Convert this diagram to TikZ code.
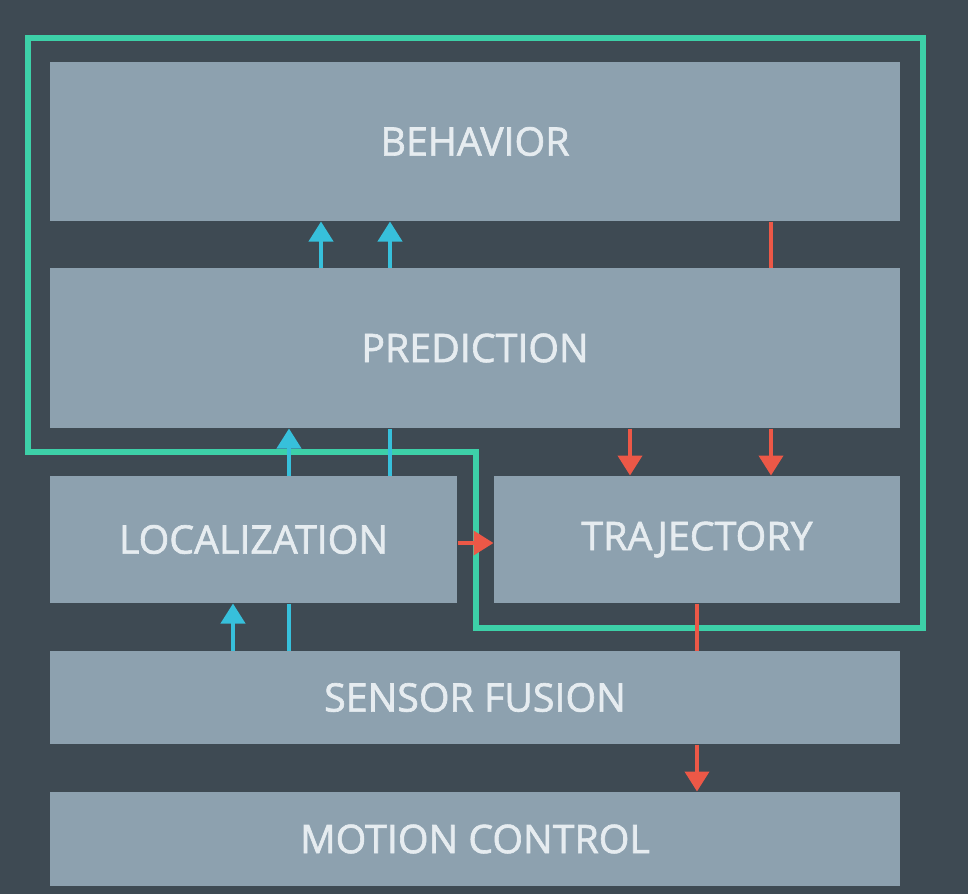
\documentclass[tikz,border=0pt]{standalone}
\usepackage{fontspec}
\setmainfont{Open Sans}
\newfontfamily\boxfont{Open Sans}[FakeBold=1.6]
\usetikzlibrary{arrows.meta}

\definecolor{bgcol}{RGB}{62,74,83}
\definecolor{boxcol}{RGB}{141,161,175}
\definecolor{txtcol}{RGB}{230,236,240}
\definecolor{upcol}{RGB}{55,192,219}
\definecolor{downcol}{RGB}{236,88,71}
\definecolor{loopcol}{RGB}{61,208,168}

\tikzset{every picture/.style={line width=0.75pt}}
\tikzset{
  box/.style={fill=boxcol, inner sep=0pt, text=txtcol, font=\boxfont\fontsize{29.5pt}{33pt}\selectfont},
  upline/.style={draw=upcol, line width=3pt},
  downline/.style={draw=downcol, line width=3pt},
  uparrow/.style={upline, -{Triangle[width=18pt,length=15pt]}},
  downarrow/.style={downline, -{Triangle[width=18pt,length=15pt]}},
}

\begin{document}
\begin{tikzpicture}[x=0.75pt,y=0.75pt,yscale=-1,xscale=1]
    % background, sets the page size
    \fill [bgcol] (0,0) rectangle (968,894);
    \useasboundingbox (0,0) rectangle (968,894);

    % Blocks
    \node (beh) [box, minimum width=637.5pt, minimum height=119.25pt] at (475,141.5) {BEHAVIOR};
    \node (pred) [box, minimum width=637.5pt, minimum height=120pt] at (475,348) {PREDICTION};
    \node (loc) [box, minimum width=305.25pt, minimum height=95.25pt] at (253.5,539.5) {LOCALIZATION};
    \node (traj) [box, minimum width=304.5pt, minimum height=95.25pt] at (697,539.5) {TRAJECTORY};
    \node (sf) [box, minimum width=637.5pt, minimum height=69.75pt] at (475,697.5) {SENSOR FUSION};
    \node (mc) [box, minimum width=637.5pt, minimum height=70.5pt] at (475,839) {MOTION CONTROL};

    % Loop outline
    \draw [loopcol, line width=3.8pt, line join=miter] (28,38) -- (923,38) -- (923,628) -- (476,628) -- (476,452) -- (28,452) -- cycle;

    % prediction -> behavior
    \draw [uparrow] (pred.north -| 321,0) -- (beh.south -| 321,0);
    \draw [uparrow] (pred.north -| 390,0) -- (beh.south -| 390,0);
    % behavior -> trajectory
    \draw [downline] (beh.south -| 771,0) -- (pred.north -| 771,0);
    \draw [downarrow] (pred.south -| 771,0) -- (traj.north -| 771,0);
    % prediction -> trajectory
    \draw [downarrow] (pred.south -| 630,0) -- (traj.north -| 630,0);
    % localization -> prediction
    \draw [uparrow] (loc.north -| 289,0) -- (pred.south -| 289,0);
    \draw [upline] (loc.north -| 390,0) -- (pred.south -| 390,0);
    % localization -> trajectory
    \draw [downarrow] (loc.east |- 0,543) -- (traj.west |- 0,543);
    % sensor fusion -> localization
    \draw [uparrow] (sf.north -| 233,0) -- (loc.south -| 233,0);
    \draw [upline] (sf.north -| 289,0) -- (loc.south -| 289,0);
    % trajectory -> motion control
    \draw [downline] (traj.south -| 697,0) -- (sf.north -| 697,0);
    \draw [downarrow] (sf.south -| 697,0) -- (mc.north -| 697,0);

\end{tikzpicture}
\end{document}
